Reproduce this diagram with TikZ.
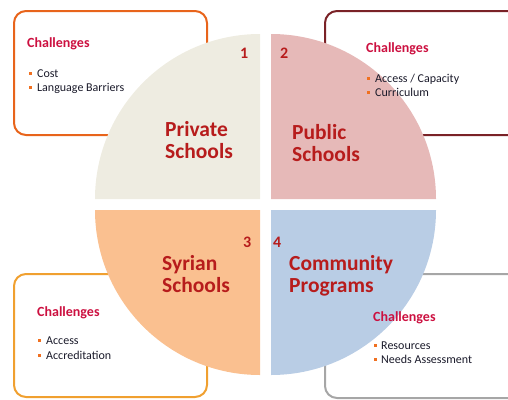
\documentclass[tikz,border=0pt]{standalone}
\usepackage{fontspec}
\setmainfont{Carlito}
\definecolor{cBeige}{HTML}{EEECE1}
\definecolor{cPink}{HTML}{E6B9B8}
\definecolor{cPeach}{HTML}{FAC090}
\definecolor{cBlue}{HTML}{B9CDE5}
\definecolor{cBoxA}{HTML}{E8641B}
\definecolor{cBoxB}{HTML}{7A2227}
\definecolor{cBoxC}{HTML}{F0A030}
\definecolor{cBoxD}{HTML}{A6A6A6}
\definecolor{cChal}{HTML}{CC1040}
\definecolor{cLbl}{HTML}{B71C1C}
\definecolor{cItem}{HTML}{1A1A2A}
\definecolor{cBul}{HTML}{F07020}
\begin{document}
\begin{tikzpicture}[x=1pt,y=-1pt,
  box/.style={line width=2pt,rounded corners=12pt},
  lbl/.style={anchor=base west,inner sep=0pt,text=cLbl,font=\fontsize{21.5}{22}\selectfont\bfseries},
  num/.style={anchor=base west,inner sep=0pt,text=cLbl,font=\fontsize{16}{16}\selectfont\bfseries},
  chal/.style={anchor=base west,inner sep=0pt,text=cChal,font=\fontsize{14}{14}\selectfont\bfseries},
  item/.style={anchor=base west,inner sep=0pt,text=cItem,font=\fontsize{12}{12}\selectfont},
  bul/.style={fill=cBul,inner sep=0pt,minimum size=3pt,draw=none}]
\useasboundingbox (0,0) rectangle (508,399);
% boxes
\draw[box,cBoxA] (14,11) rectangle (207,135);
\draw[box,cBoxB] (325,11) rectangle (530,135);
\draw[box,cBoxC] (14,274) rectangle (207,397);
\draw[box,cBoxD] (325,274) rectangle (530,398);
% quadrants
\fill[cBeige] (260,199) -- ++(-165,0) arc[start angle=180,end angle=270,radius=165] -- cycle;
\fill[cPink] (271,199) -- ++(0,-165) arc[start angle=270,end angle=360,radius=165] -- cycle;
\fill[cPeach] (260,210) -- ++(0,165) arc[start angle=90,end angle=180,radius=165] -- cycle;
\fill[cBlue] (271,210) -- ++(165,0) arc[start angle=0,end angle=90,radius=165] -- cycle;
% numbers
\node[num] (n1) at (240,58) {1};
\node[num] (n2) at (280,58) {2};
\node[num] (n3) at (243,247) {3};
\node[num] (n4) at (273,247) {4};
% labels
\node[lbl] (l1a) at (165,136) {Private};
\node[lbl] (l1b) at (165,158) {Schools};
\node[lbl] (l2a) at (292,139) {Public};
\node[lbl] (l2b) at (292,161) {Schools};
\node[lbl] (l3a) at (162,270) {Syrian};
\node[lbl] (l3b) at (162,292) {Schools};
\node[lbl] (l4a) at (289,270) {Community};
\node[lbl] (l4b) at (289,292) {Programs};
% challenges TL
\node[chal] (c1) at (27,47) {Challenges};
\node[bul] (b1a) at (30,73) {};
\node[item] (i1a) at (37,77) {Cost};
\node[bul] (b1b) at (30,87) {};
\node[item] (i1b) at (37,91) {Language Barriers};
% challenges TR
\node[chal] (c2) at (366,52) {Challenges};
\node[bul] (b2a) at (368,78) {};
\node[item] (i2a) at (375,82) {Access / Capacity};
\node[bul] (b2b) at (368,92) {};
\node[item] (i2b) at (375,96) {Curriculum};
% challenges BL
\node[chal] (c3) at (37,316) {Challenges};
\node[bul] (b3a) at (39,340) {};
\node[item] (i3a) at (46,344) {Access};
\node[bul] (b3b) at (39,355) {};
\node[item] (i3b) at (46,359) {Accreditation};
% challenges BR
\node[chal] (c4) at (373,321) {Challenges};
\node[bul] (b4a) at (375,345) {};
\node[item] (i4a) at (381,349) {Resources};
\node[bul] (b4b) at (375,359) {};
\node[item] (i4b) at (381,363) {Needs Assessment};
\end{tikzpicture}
\end{document}
